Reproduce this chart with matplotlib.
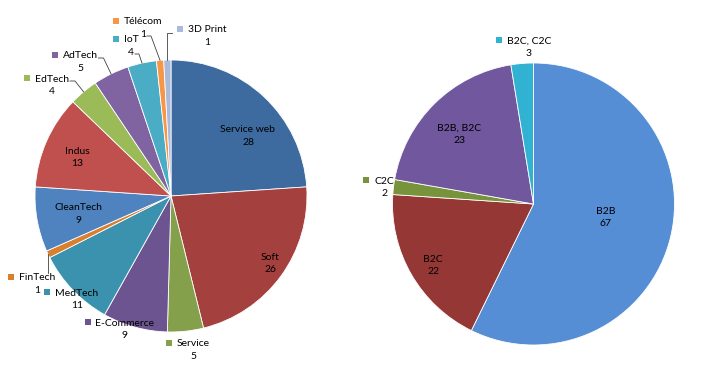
import numpy as np
import matplotlib.pyplot as plt
from matplotlib.lines import Line2D
from matplotlib.transforms import IdentityTransform

# secteurs (camembert de gauche)
secteurs = ['Service web', 'Soft', 'Service', 'E-Commerce', 'MedTech', 'FinTech',
            'CleanTech', 'Indus', 'EdTech', 'AdTech', 'IoT', 'Télécom', '3D Print']
nb_secteurs = [28, 26, 5, 9, 11, 1, 9, 13, 4, 5, 4, 1, 1]

# cibles (camembert de droite)
cibles = ['B2B', 'B2C', 'C2C', 'B2B, B2C', 'B2C, C2C']
nb_cibles = [67, 22, 2, 23, 3]

couleurs_secteurs = ['#3D6A9F', '#A4403D', '#84A04A', '#6C5490', '#3A92AE', '#D9802F',
                     '#4F83C0', '#C0504D', '#9BBB59', '#8064A2', '#4BACC6', '#F79646',
                     '#A9BADA']
couleurs_cibles = ['#558ED5', '#953735', '#77933C', '#70579E', '#31B2D2']

# placement des etiquettes (pixels depuis le haut), marqueur, type de trait
pos_secteurs = [(248, 130, False, None), (270, 257, False, None),
                (193, 344, True, None), (125, 323, True, None),
                (77, 293, True, None), (37, 278, True, 'down'),
                (78, 208, False, None), (77, 151, False, None),
                (52, 79, True, 'right'), (80, 56, True, 'right'),
                (131, 40, True, 'value'), (143, 22, True, 'value'),
                (207, 30, True, 'left')]
pos_cibles = [(606, 211, False, None), (433, 259, False, None),
              (384, 181, True, None), (459, 128, True, None),
              (529, 41, True, None)]

H = 375
FONT = 'Lato'
FS = 7.5


def draw_pie(ax, vals, colors):
    wedges, _ = ax.pie(vals, colors=colors, startangle=90, counterclock=False,
                       wedgeprops=dict(edgecolor='white', linewidth=0.6))
    ax.set_xlim(-1, 1)
    ax.set_ylim(-1, 1)
    return wedges


def draw_labels(fig, ax, wedges, names, vals, layout, colors):
    ident = IdentityTransform()
    renderer = fig.canvas.get_renderer()
    for w, name, v, c, (x, y, mark, lead) in zip(wedges, names, vals, colors, layout):
        yd = H - y
        t = fig.text(x, yd, name, transform=ident, ha='center', va='center',
                     fontsize=FS, family=FONT)
        tv = fig.text(x, yd - 12.5, str(v), transform=ident, ha='center',
                      va='center', fontsize=FS, family=FONT)
        bb = t.get_window_extent(renderer)
        bv = tv.get_window_extent(renderer)
        mx = bb.x0 - 8
        if mark:
            fig.add_artist(Line2D([mx], [yd + 1], transform=ident, marker='s',
                                  markersize=4.2, color=c, markeredgewidth=0))
        if lead is None:
            continue
        ang = np.deg2rad((w.theta1 + w.theta2) / 2)
        ex, ey = ax.transData.transform((w.center[0] + w.r * np.cos(ang),
                                         w.center[1] + w.r * np.sin(ang)))
        if lead == 'right':
            sx, sy = bb.x1 + 1, yd - 2
            xs, ys = [sx, sx + 5, ex], [sy, sy, ey]
        elif lead == 'value':
            sx, sy = bv.x1 + 1, yd - 14
            xs, ys = [sx, sx + 4, ex], [sy, sy, ey]
        elif lead == 'left':
            sx, sy = mx - 8, yd - 3
            xs, ys = [sx, ex, ex], [sy, sy, ey]
        else:
            xs, ys = [ex, ex], [bb.y1 + 1, ey]
        fig.add_artist(Line2D(xs, ys, transform=ident, color='#404040', lw=0.6))


def main():
    fig = plt.figure(figsize=(7.1, 3.75), dpi=100)
    ax1 = fig.add_axes([35 / 710, 43 / 375, 272 / 710, 272 / 375])
    ax2 = fig.add_axes([392.5 / 710, 30 / 375, 282 / 710, 282 / 375])

    w1 = draw_pie(ax1, nb_secteurs, couleurs_secteurs)
    w2 = draw_pie(ax2, nb_cibles, couleurs_cibles)

    draw_labels(fig, ax1, w1, secteurs, nb_secteurs, pos_secteurs, couleurs_secteurs)
    draw_labels(fig, ax2, w2, cibles, nb_cibles, pos_cibles, couleurs_cibles)

    fig.savefig('out.png', dpi=100)


if __name__ == "__main__":
    main()
